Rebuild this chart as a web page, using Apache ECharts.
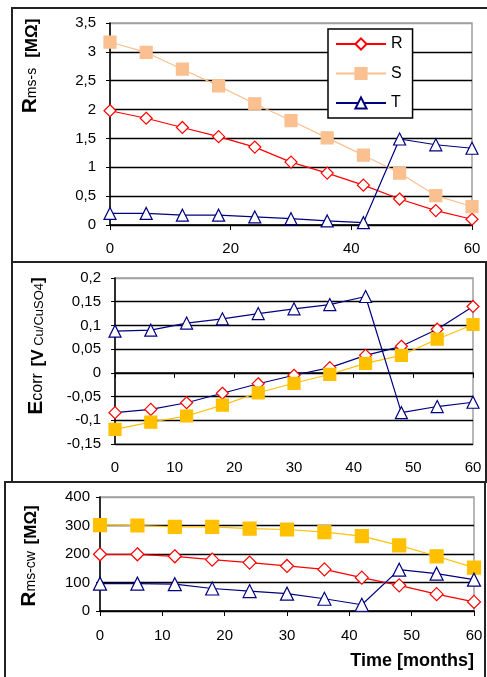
<!DOCTYPE html>
<html>
<head>
<meta charset="utf-8">
<style>
  html, body { margin: 0; padding: 0; background: #fff; }
  #chart { width: 487px; height: 677px; }
</style>
<script src="https://cdn.jsdelivr.net/npm/echarts@6/dist/echarts.min.js"></script>
</head>
<body>
<div id="chart"></div>
<script>
// months, one reading every 6 months
var months = [0, 6, 12, 18, 24, 30, 36, 42, 48, 54, 60];

// panel 1: Rms-s [MOhm]
var rmsR = [1.98, 1.85, 1.69, 1.53, 1.35, 1.09, 0.90, 0.69, 0.45, 0.25, 0.10];
var rmsS = [3.17, 2.99, 2.70, 2.41, 2.10, 1.81, 1.51, 1.21, 0.90, 0.51, 0.32];
var rmsT = [0.20, 0.20, 0.17, 0.17, 0.14, 0.11, 0.07, 0.04, 1.49, 1.39, 1.33];

// panel 2: Ecorr [V Cu/CuSO4]
var ecorrR = [-0.084, -0.077, -0.063, -0.043, -0.023, -0.005, 0.011, 0.037, 0.056, 0.092, 0.140];
var ecorrS = [-0.119, -0.104, -0.091, -0.068, -0.042, -0.022, -0.003, 0.020, 0.037, 0.071, 0.102];
var ecorrT = [0.088, 0.090, 0.105, 0.114, 0.125, 0.135, 0.144, 0.161, -0.084, -0.071, -0.062];

// panel 3: Rms-cw [MOhm]
var cwR = [199, 199, 192, 180, 170, 158, 146, 117, 90, 59, 32];
var cwS = [301, 300, 295, 295, 289, 286, 277, 263, 230, 192, 152];
var cwT = [96, 96, 94, 79, 70, 61, 43, 22, 145, 131, 110];

// tick labels (comma decimals as in the original)
var ticks1 = ['0', '0,5', '1', '1,5', '2', '2,5', '3', '3,5'];
var ticks2 = ['-0,15', '-0,1', '-0,05', '0', '0,05', '0,1', '0,15', '0,2'];
var ticks3 = ['0', '100', '200', '300', '400'];

var legendNames = ['R', 'S', 'T'];

function pairs(ys) {
  return months.map(function (m, i) { return [m, ys[i]]; });
}

var red = '#ff0000', navy = '#000080', peach = '#fac090', gold = '#ffc000';
var font = 'Liberation Sans, Arial, sans-serif';

function xAx(idx, interval, margin) {
  return {
    type: 'value', gridIndex: idx, min: 0, max: 60, interval: interval,
    axisLine: { lineStyle: { color: '#000', width: 1.5 } },
    axisTick: { show: true, length: 5, lineStyle: { color: '#000' } },
    axisLabel: { color: '#000', fontSize: 15, fontFamily: font, margin: margin },
    splitLine: { show: false }
  };
}

function yAx(idx, min, max, interval, labels, n, margin) {
  var cols = [];
  for (var i = 0; i < n - 1; i++) cols.push('#000');
  cols.push('#a0a0a0');
  return {
    type: 'value', gridIndex: idx, min: min, max: max, interval: interval,
    axisLine: { show: true, lineStyle: { color: '#000', width: 1.5 } },
    axisTick: { show: true, length: 4, lineStyle: { color: '#000' } },
    axisLabel: {
      color: '#000', fontSize: 15, fontFamily: font, margin: margin,
      formatter: function (v) { return labels[Math.round((v - min) / interval)]; }
    },
    splitLine: { show: true, lineStyle: { color: cols, width: 1.3 } }
  };
}

function line(name, idx, ys, color, lineColor, symbol, size, filled) {
  return {
    name: name, type: 'line', xAxisIndex: idx, yAxisIndex: idx,
    data: pairs(ys), symbol: symbol, symbolSize: size,
    lineStyle: { color: lineColor, width: 1.2 },
    itemStyle: { color: filled ? color : '#fff', borderColor: color, borderWidth: 1.2 },
    emphasis: { disabled: true },
    z: symbol === 'triangle' ? 3 : 2
  };
}

function rich(big, small, unit) {
  return {
    a: { fontSize: 21, fontWeight: 'bold', fontFamily: font, verticalAlign: 'bottom' },
    b: { fontSize: small, fontFamily: font, verticalAlign: 'bottom', padding: [0, 0, 1, 0] },
    c: { fontSize: unit, fontWeight: 'bold', fontFamily: font, verticalAlign: 'bottom' },
    d: { fontSize: 13, fontFamily: font, verticalAlign: 'bottom', padding: [0, 0, 1, 0] }
  };
}

var chart = echarts.init(document.getElementById('chart'));
chart.setOption({
  animation: false,
  backgroundColor: '#fff',
  grid: [
    { left: 110, right: 15, top: 23, height: 202, show: true, borderColor: '#a0a0a0', borderWidth: 1.5 },
    { left: 115, right: 14, top: 278, height: 166, show: true, borderColor: '#a0a0a0', borderWidth: 1.5 },
    { left: 100, right: 13, top: 497, height: 114, show: true, borderColor: '#a0a0a0', borderWidth: 1.5 }
  ],
  xAxis: [xAx(0, 20, 16), xAx(1, 10, 16), xAx(2, 10, 17)],
  yAxis: [
    yAx(0, 0, 3.5, 0.5, ticks1, 8, 14),
    yAx(1, -0.15, 0.2, 0.05, ticks2, 8, 14),
    yAx(2, 0, 400, 100, ticks3, 5, 10)
  ],
  legend: {
    data: legendNames, orient: 'vertical', left: 328, top: 29,
    itemWidth: 50, itemHeight: 14, itemGap: 13.5,
    padding: [7, 10, 7, 7],
    backgroundColor: '#fff', borderColor: '#000', borderWidth: 1.5,
    textStyle: { color: '#000', fontSize: 16, fontFamily: font },
    selectedMode: false
  },
  series: [
    line('R', 0, rmsR, red, red, 'diamond', 12, false),
    line('S', 0, rmsS, peach, peach, 'rect', 12, true),
    line('T', 0, rmsT, navy, navy, 'triangle', 12, false),
    line('R', 1, ecorrR, red, navy, 'diamond', 12, false),
    line('S', 1, ecorrS, gold, gold, 'rect', 12, true),
    line('T', 1, ecorrT, navy, navy, 'triangle', 12, false),
    line('R', 2, cwR, red, red, 'diamond', 13, false),
    line('S', 2, cwS, gold, gold, 'rect', 13, true),
    line('T', 2, cwT, navy, navy, 'triangle', 13, false)
  ],
  graphic: [
    // panel frames
    { type: 'rect', shape: { x: 12, y: 8, width: 490, height: 254 }, style: { fill: 'none', stroke: '#222', lineWidth: 2 }, silent: true },
    { type: 'rect', shape: { x: 12, y: 262, width: 474, height: 220 }, style: { fill: 'none', stroke: '#222', lineWidth: 2 }, silent: true },
    { type: 'rect', shape: { x: 5, y: 482, width: 480, height: 210 }, style: { fill: 'none', stroke: '#222', lineWidth: 2 }, silent: true },
    // axis titles
    {
      type: 'text', x: 30, y: 66, rotation: Math.PI / 2,
      style: {
        text: '{a|R}{b|ms-s}   {c|[MΩ]}', align: 'center', verticalAlign: 'middle', fill: '#000',
        rich: rich(21, 14, 17)
      }
    },
    {
      type: 'text', x: 36, y: 346, rotation: Math.PI / 2,
      style: {
        text: '{a|E}{b|corr}  {c|[V}{d| Cu/CuSO4}{c|]}', align: 'center', verticalAlign: 'middle', fill: '#000',
        rich: rich(21, 16, 17)
      }
    },
    {
      type: 'text', x: 29, y: 556, rotation: Math.PI / 2,
      style: {
        text: '{a|R}{b|ms-cw}  {c|[MΩ]}', align: 'center', verticalAlign: 'middle', fill: '#000',
        rich: rich(21, 14, 17)
      }
    },
    {
      type: 'text', right: 13, top: 652,
      style: { text: 'Time [months]', fill: '#000', fontSize: 18, fontWeight: 'bold', fontFamily: font }
    }
  ]
});
</script>
</body>
</html>
